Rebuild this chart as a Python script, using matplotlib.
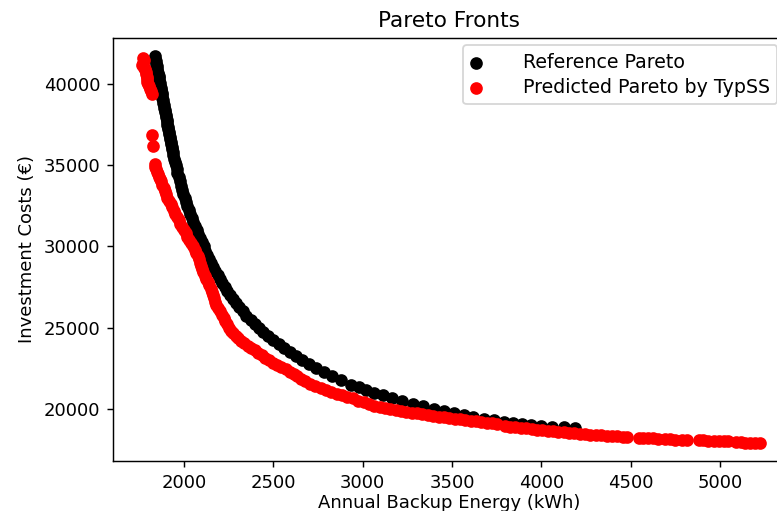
import numpy as np
import matplotlib
matplotlib.use('Agg')
import matplotlib.pyplot as plt

# Reference Pareto front
ref_energy = [1838, 1840, 1843, 1845, 1848, 1850, 1852, 1855, 1858, 1860, 1863, 1865,
              1868, 1870, 1873, 1875, 1878, 1880, 1883, 1885, 1888, 1890, 1893, 1895,
              1898, 1900, 1903, 1905, 1908, 1911, 1913, 1916, 1918, 1921, 1924, 1926,
              1929, 1931, 1934, 1938, 1941, 1945, 1949, 1953, 1959, 1964, 1970, 1976,
              1983, 1990, 1997, 2004, 2012, 2020, 2028, 2036, 2045, 2053, 2062, 2071,
              2081, 2090, 2100, 2110, 2120, 2131, 2141, 2152, 2164, 2176, 2188, 2200,
              2214, 2229, 2243, 2258, 2275, 2293, 2310, 2328, 2350, 2373, 2395, 2418,
              2445, 2472, 2500, 2530, 2560, 2595, 2628, 2660, 2700, 2740, 2785, 2830,
              2880, 2935, 2980, 3020, 3065, 3115, 3165, 3220, 3280, 3340, 3400, 3455,
              3510, 3565, 3620, 3680, 3735, 3790, 3840, 3890, 3940, 4000, 4060, 4125,
              4190]
ref_cost = [41700, 41550, 41400, 41250, 41100, 40950, 40800, 40650, 40500, 40350, 40200, 40050,
            39900, 39750, 39600, 39450, 39300, 39150, 39000, 38850, 38700, 38550, 38400, 38250,
            38100, 37950, 37800, 37650, 37500, 37350, 37200, 37050, 36900, 36750, 36600, 36450,
            36300, 36150, 36000, 35800, 35600, 35400, 35200, 35000, 34750, 34500, 34250, 34000,
            33750, 33500, 33250, 33000, 32750, 32500, 32250, 32000, 31750, 31500, 31250, 31000,
            30750, 30500, 30250, 30000, 29750, 29500, 29250, 29000, 28750, 28500, 28250, 28000,
            27750, 27500, 27250, 27000, 26750, 26500, 26250, 26000, 25750, 25500, 25250, 25000,
            24760, 24520, 24270, 24000, 23770, 23500, 23250, 23000, 22750, 22500, 22250, 22000,
            21760, 21500, 21330, 21170, 21000, 20840, 20680, 20500, 20330, 20170, 20000, 19880,
            19750, 19620, 19500, 19400, 19300, 19200, 19130, 19070, 19000, 18960, 18920, 18870,
            18820]

# Predicted Pareto front by TypSS
pred_energy = [1772, 1778, 1770, 1768, 1775, 1782, 1790, 1786, 1794, 1792, 1796, 1800,
               1806, 1810, 1815, 1820,
               1821, 1827,
               1836, 1840, 1845, 1850, 1856, 1862, 1868, 1874, 1880, 1887, 1894, 1900,
               1908, 1916, 1925, 1933, 1942, 1951, 1960, 1970, 1980, 1990, 2000, 2010,
               2020, 2030, 2040, 2050, 2060, 2068, 2076, 2082, 2088, 2094, 2100, 2108,
               2116, 2125, 2134, 2143, 2150, 2156, 2161, 2166, 2172, 2180, 2190, 2200,
               2212, 2222, 2232, 2240, 2250, 2262, 2275, 2290, 2305, 2320, 2338, 2356,
               2375, 2395, 2415, 2435, 2455, 2475, 2497, 2520, 2545, 2570, 2592, 2615,
               2635, 2655, 2680, 2705, 2735, 2765, 2795, 2825, 2855, 2885, 2915, 2945,
               2975, 3005, 3035, 3065, 3095, 3125, 3155, 3185, 3215, 3245, 3275, 3305,
               3335, 3365, 3395, 3425, 3455, 3485, 3515, 3545, 3575, 3605, 3635, 3665,
               3695, 3725, 3752,
               3795, 3825, 3855, 3885, 3915, 3945, 3975, 4005, 4035, 4065, 4095, 4125,
               4155, 4185, 4215, 4245, 4275, 4305, 4335, 4365, 4395, 4425, 4455, 4480,
               4545, 4570, 4595, 4625, 4655, 4690, 4720, 4750, 4785, 4815,
               4880, 4905, 4935, 4965, 4995, 5020, 5045, 5090, 5115, 5140, 5165, 5195,
               5225]
pred_cost = [41600, 41450, 41300, 41150, 41000, 40900, 40750, 40600, 40450, 40300, 40150, 40000,
             39850, 39700, 39550, 39400,
             36870, 36200,
             35050, 34900, 34750, 34600, 34450, 34300, 34150, 34000, 33800, 33600, 33400, 33200,
             33000, 32800, 32600, 32400, 32200, 32000, 31800, 31600, 31400, 31200, 31000, 30800,
             30600, 30400, 30200, 30000, 29800, 29600, 29400, 29200, 29000, 28800, 28600, 28400,
             28200, 28000, 27800, 27600, 27400, 27200, 27000, 26800, 26600, 26400, 26200, 26000,
             25800, 25600, 25400, 25200, 25000, 24800, 24650, 24500, 24350, 24200, 24050, 23900,
             23750, 23600, 23450, 23300, 23150, 23000, 22850, 22700, 22580, 22450, 22300, 22150,
             22000, 21850, 21700, 21550, 21420, 21300, 21180, 21060, 20950, 20850, 20750, 20650,
             20480, 20400, 20300, 20200, 20130, 20060, 20000, 19940, 19880, 19830, 19780, 19730,
             19680, 19630, 19580, 19530, 19480, 19440, 19400, 19360, 19320, 19280, 19240, 19200,
             19150, 19110, 19070,
             18960, 18920, 18880, 18850, 18810, 18770, 18730, 18690, 18650, 18620, 18590, 18560,
             18530, 18500, 18470, 18450, 18420, 18400, 18380, 18350, 18330, 18310, 18290, 18270,
             18240, 18230, 18210, 18190, 18170, 18150, 18130, 18120, 18100, 18090,
             18070, 18065, 18060, 18055, 18050, 18020, 18000, 17950, 17940, 17930, 17925, 17920,
             17910]

fig = plt.figure(figsize=(777 / 130, 511 / 130), dpi=130)
ax = fig.add_axes([0.1454, 0.0978, 0.865, 0.828])

ax.scatter(ref_energy, ref_cost, c='black', s=36, label='Reference Pareto')
ax.scatter(pred_energy, pred_cost, c='red', s=36, label='Predicted Pareto by TypSS')

ax.set_xlim(1603, 5364)
ax.set_ylim(16798, 42833)
ax.set_title('Pareto Fronts')
ax.set_xlabel('Annual Backup Energy (kWh)', labelpad=1.5)
ax.set_ylabel('Investment Costs (€)')
ax.legend(loc='upper right', fontsize=10.5, handlelength=0.55, handletextpad=2.2,
          labelspacing=0.3, borderaxespad=0.4)

fig.savefig('out.png', dpi=130)
